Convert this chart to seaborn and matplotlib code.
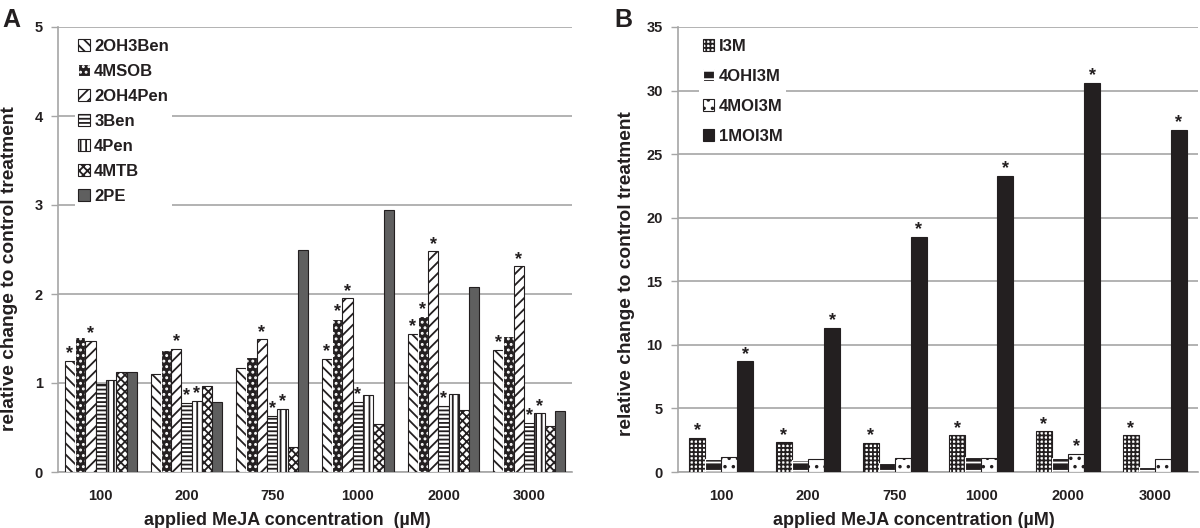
import numpy as np
import pandas as pd
import seaborn as sns
import matplotlib.pyplot as plt

sns.set_style('white')
plt.rcParams['font.family'] = ['Liberation Sans', 'DejaVu Sans']
plt.rcParams['font.weight'] = 'bold'
plt.rcParams['hatch.linewidth'] = 1.3

ink = '#231f20'
grid_col = '#a6a6a6'

conc = ['100', '200', '750', '1000', '2000', '3000']

# panel A - aliphatic/aromatic glucosinolates
cmp_a = ['2OH3Ben', '4MSOB', '2OH4Pen', '3Ben', '4Pen', '4MTB', '2PE']
oh3ben = [1.25, 1.10, 1.17, 1.27, 1.55, 1.37]
msob = [1.52, 1.37, 1.29, 1.72, 1.75, 1.53]
oh4pen = [1.47, 1.38, 1.49, 1.95, 2.48, 2.31]
ben3 = [0.99, 0.78, 0.63, 0.79, 0.74, 0.55]
pen4 = [1.03, 0.80, 0.71, 0.87, 0.88, 0.66]
mtb = [1.12, 0.97, 0.28, 0.54, 0.70, 0.52]
pe2 = [1.12, 0.79, 2.49, 2.94, 2.08, 0.69]

# significance (asterisk) flags, panel A
sig_oh3ben = [1, 0, 0, 1, 1, 1]
sig_msob = [0, 0, 0, 1, 1, 0]
sig_oh4pen = [1, 1, 1, 1, 1, 1]
sig_ben3 = [0, 1, 1, 1, 1, 1]
sig_pen4 = [0, 1, 1, 0, 0, 1]
sig_mtb = [0, 0, 0, 0, 0, 0]
sig_pe2 = [0, 0, 0, 0, 0, 0]

# panel B - indole glucosinolates
cmp_b = ['I3M', '4OHI3M', '4MOI3M', '1MOI3M']
i3m = [2.67, 2.33, 2.27, 2.89, 3.19, 2.89]
ohi3m = [1.04, 0.94, 0.70, 1.18, 1.12, 0.40]
moi3m4 = [1.15, 0.99, 1.10, 1.07, 1.42, 1.04]
moi3m1 = [8.7, 11.33, 18.5, 23.3, 30.6, 26.9]

sig_i3m = [1, 1, 1, 1, 1, 1]
sig_ohi3m = [0, 0, 0, 0, 0, 0]
sig_moi3m4 = [0, 0, 0, 0, 1, 0]
sig_moi3m1 = [1, 1, 1, 1, 1, 1]

df_a = pd.DataFrame({'conc': conc * len(cmp_a),
                     'compound': np.repeat(cmp_a, len(conc)),
                     'value': oh3ben + msob + oh4pen + ben3 + pen4 + mtb + pe2})
sig_a = [sig_oh3ben, sig_msob, sig_oh4pen, sig_ben3, sig_pen4, sig_mtb, sig_pe2]

df_b = pd.DataFrame({'conc': conc * len(cmp_b),
                     'compound': np.repeat(cmp_b, len(conc)),
                     'value': i3m + ohi3m + moi3m4 + moi3m1})
sig_b = [sig_i3m, sig_ohi3m, sig_moi3m4, sig_moi3m1]

# (face, hatch colour, hatch)
style_a = [('white', ink, '\\\\\\'),
           (ink, 'white', '...'),
           ('white', ink, '///'),
           ('white', ink, '----'),
           ('white', ink, '|||'),
           ('white', ink, 'xxxx'),
           ('#5f5f5f', ink, '')]
style_b = [('white', ink, '++++'),
           (ink, 'white', '--'),
           ('white', ink, '..'),
           (ink, ink, '')]

fig = plt.figure(figsize=(12, 5.28), dpi=100)
ax_a = fig.add_axes([58 / 1200, 56 / 528, 514 / 1200, 445 / 528])
ax_b = fig.add_axes([678 / 1200, 56 / 528, 520 / 1200, 445 / 528])


def panel(ax, df, order, styles, sigs, width, ymax, ystep, leg_x, leg_space):
    sns.barplot(data=df, x='conc', y='value', hue='compound', order=conc,
                hue_order=order, width=width, palette=['white'] * len(order),
                errorbar=None, legend=False, ax=ax, zorder=3)
    for cont, (face, hc, hatch), sig in zip(ax.containers, styles, sigs):
        for bar, s in zip(cont, sig):
            bar.set_facecolor(face)
            bar.set_edgecolor(hc)
            bar.set_hatch(hatch)
            bar.set_linewidth(0.8)
            if s:
                ax.annotate('*', (bar.get_x() + bar.get_width() / 2, bar.get_height()),
                            xytext=(0, -1), textcoords='offset points',
                            ha='center', va='bottom', fontsize=13, color=ink, zorder=4)
    ax.set_xlim(-0.5, len(conc) - 0.5)
    ax.set_ylim(0, ymax)
    ax.set_yticks(np.arange(0, ymax + 0.01, ystep))
    ax.yaxis.grid(True, color=grid_col, lw=1.2, zorder=0)
    ax.set_axisbelow(True)
    for sp in ['top', 'right']:
        ax.spines[sp].set_visible(False)
    for sp in ['left', 'bottom']:
        ax.spines[sp].set_color(grid_col)
        ax.spines[sp].set_linewidth(1.2)
    ax.set_xticks(np.arange(-0.5, len(conc), 1.0), minor=True)
    ax.tick_params(axis='x', which='major', length=0, pad=12, labelsize=10.5, labelcolor=ink)
    ax.tick_params(axis='x', which='minor', length=4, width=1, color=grid_col, direction='out')
    ax.tick_params(axis='y', length=5, width=1, color=grid_col, direction='out',
                   labelsize=10.5, labelcolor=ink, pad=6, left=True)
    ax.set_ylabel('relative change to control treatment', fontsize=13.8,
                  fontweight='bold', color=ink)
    handles = [cont[0] for cont in ax.containers]
    leg = ax.legend(handles, order, loc='upper left', bbox_to_anchor=(leg_x, 1.0),
                    frameon=True, facecolor='white', edgecolor='none', framealpha=1,
                    fancybox=False, fontsize=12, handlelength=0.7, handleheight=0.7,
                    handletextpad=0.25, labelspacing=leg_space, borderpad=0.2)
    leg.set_zorder(5)
    for t in leg.get_texts():
        t.set_color(ink)
        t.set_fontweight('bold')


panel(ax_a, df_a, cmp_a, style_a, sig_a, 0.84, 5, 1, 0.017, 0.6)
panel(ax_b, df_b, cmp_b, style_b, sig_b, 0.74, 35, 5, 0.025, 0.9)

ax_a.yaxis.set_label_coords(-0.078, 0.458)
ax_b.yaxis.set_label_coords(-0.083, 0.445)

ax_a.set_xlabel('applied MeJA concentration  (µM)', fontsize=13, fontweight='bold', color=ink)
ax_b.set_xlabel('applied MeJA concentration (µM)', fontsize=13, fontweight='bold', color=ink)
ax_a.xaxis.set_label_coords(0.447, -0.09)
ax_b.xaxis.set_label_coords(0.454, -0.09)

fig.text(0.002, 0.985, 'A', fontsize=18, fontweight='bold', color=ink, va='top')
fig.text(0.512, 0.985, 'B', fontsize=18, fontweight='bold', color=ink, va='top')

fig.savefig('out.png', dpi=100)
